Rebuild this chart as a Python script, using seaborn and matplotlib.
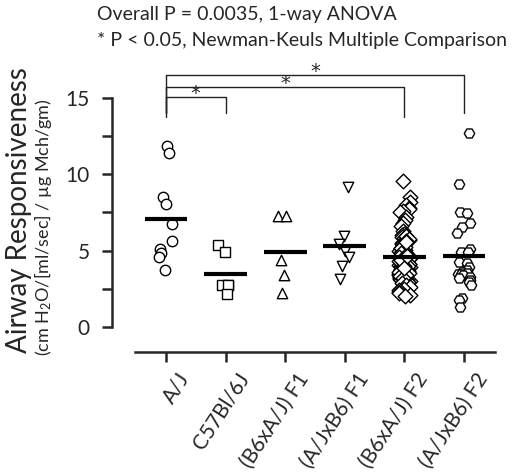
import numpy as np
import pandas as pd
import matplotlib
matplotlib.use("Agg")
import matplotlib.pyplot as plt
import matplotlib.transforms as mtrans
import seaborn as sns

# strains on the x axis
strains = ["A/J", "C57Bl/6J", "(B6xA/J) F1", "(A/JxB6) F1", "(B6xA/J) F2", "(A/JxB6) F2"]
markers = ["o", "s", "^", "v", "D", "H"]

# airway responsiveness
aj = [11.87, 11.41, 8.53, 8.05, 6.74, 5.65, 5.13, 4.82, 4.56, 3.73]
b6 = [5.37, 4.89, 2.75, 2.75, 2.75, 2.16]
b6xaj_f1 = [7.27, 7.27, 4.39, 3.4, 2.2]
ajxb6_f1 = [9.15, 5.98, 5.42, 4.98, 4.6, 4.01, 3.14]
b6xaj_f2 = [9.55, 8.5, 8.2, 8.0, 7.8, 7.7, 7.6, 7.5, 7.2, 7.0, 6.8, 6.6,
            6.3, 6.1, 6.0, 5.9, 5.85, 5.7, 5.6, 5.5, 5.45, 5.3,
            5.2, 5.1, 5.05, 4.95, 4.9, 4.8, 4.7, 4.65, 4.6, 4.5,
            4.45, 4.4, 4.3, 4.25, 4.2, 4.1, 4.05, 4.0, 3.95, 3.9,
            3.8, 3.75, 3.7, 3.6, 3.55, 3.5, 3.4, 3.35, 3.3, 3.2,
            3.15, 3.1, 3.05, 3.0, 4.55, 4.35, 3.85, 5.0, 4.15, 3.65,
            3.1, 3.3, 2.95, 3.45,
            5.95, 5.75, 5.65, 5.35, 5.25, 5.15, 4.85, 4.75, 4.62, 4.52,
            4.48, 4.38, 4.32, 4.22, 4.12, 4.02, 3.98, 3.92, 3.82, 3.72,
            3.62, 3.52, 3.42, 3.32, 3.22, 4.58, 4.42, 4.68, 5.55, 3.88,
            2.9, 2.75, 2.6, 2.5, 2.4, 2.3, 2.2, 2.1, 2.0]
ajxb6_f2 = [12.73, 9.34, 7.55, 7.48, 6.79, 6.57, 6.18, 5.09, 4.93, 4.93,
            4.28, 4.17, 3.9, 3.73, 3.6, 3.55, 3.5, 3.45, 3.4, 3.3, 3.2,
            3.08, 2.97, 2.75, 1.88, 1.77, 1.29]

groups = [aj, b6, b6xaj_f1, ajxb6_f1, b6xaj_f2, ajxb6_f2]

# significant comparisons (from, to)
comparisons = [(0, 1), (0, 4), (0, 5)]
bracket_y = [15.08, 15.74, 16.5]
bracket_low = [14.0, 13.77, 14.0]

df = pd.concat([pd.DataFrame({"strain": s, "value": v}) for s, v in zip(strains, groups)],
               ignore_index=True)

sns.set_style("ticks")
plt.rcParams["font.family"] = ["Lato", "DejaVu Sans"]
plt.rcParams["mathtext.fontset"] = "custom"
plt.rcParams["mathtext.rm"] = "Lato"
plt.rcParams["mathtext.default"] = "regular"

fig = plt.figure(figsize=(5.18, 4.73), dpi=100)
ax = fig.add_axes([0.2162, 0.2558, 0.7543, 0.6178])

np.random.seed(3)
for s, m in zip(strains, markers):
    sub = df[df["strain"] == s]
    jit = 0.1 if m == "D" else 0.13
    sns.stripplot(data=sub, x="strain", y="value", order=strains, marker=m,
                  jitter=jit, size=7.5, color="white", edgecolor="black",
                  linewidth=1, ax=ax, zorder=3)

means = df.groupby("strain", sort=False)["value"].mean()
for i, s in enumerate(strains):
    ax.hlines(means[s], i - 0.36, i + 0.36, color="black", lw=3, zorder=4)

for (a, b), y, lo in zip(comparisons, bracket_y, bracket_low):
    ax.plot([a, a, b, b], [lo, y, y, lo], color="#222222", lw=1, clip_on=False)
    ax.text((a + b) / 2, y + 0.22, "*", ha="center", va="center", fontsize=14,
            family="DejaVu Sans")

ax.set_xlim(-0.906, 5.65)
ax.set_ylim(-1.637, 17.5)
ax.set_yticks([0, 5, 10, 15])
ax.set_yticks([2.5, 7.5, 12.5], minor=True)
ax.tick_params(axis="y", which="both", direction="out", length=7, width=1.8,
               labelsize=15, pad=9)
ax.tick_params(axis="x", direction="out", length=7, width=1.8, labelsize=15)
ax.set_xticks(range(len(strains)))
ax.set_xticklabels(strains, rotation=57, ha="right", rotation_mode="anchor")
shift = mtrans.ScaledTranslation(8 / 72, -2 / 72, fig.dpi_scale_trans)
for lab in ax.get_xticklabels():
    lab.set_transform(lab.get_transform() + shift)
ax.set_xlabel("")
ax.set_ylabel("")

sns.despine(ax=ax)
ax.spines["left"].set_bounds(0, 15)
ax.spines["bottom"].set_bounds(-0.52, 5.52)
for sp in ["left", "bottom"]:
    ax.spines[sp].set_linewidth(1.8)

fig.text(0.037, 0.555, "Airway Responsiveness", rotation=90, ha="center", va="center", fontsize=20)
fig.text(0.083, 0.52, r"(cm H$_2$O/[ml/sec] / µg Mch/gm)", rotation=90, ha="center",
         va="center", fontsize=13)

fig.text(0.187, 0.958, "Overall P = 0.0035, 1-way ANOVA", ha="left", va="baseline", fontsize=14)
fig.text(0.187, 0.902, "* P < 0.05, Newman-Keuls Multiple Comparison", ha="left", va="baseline",
         fontsize=14)

fig.savefig("out.png", dpi=100)
